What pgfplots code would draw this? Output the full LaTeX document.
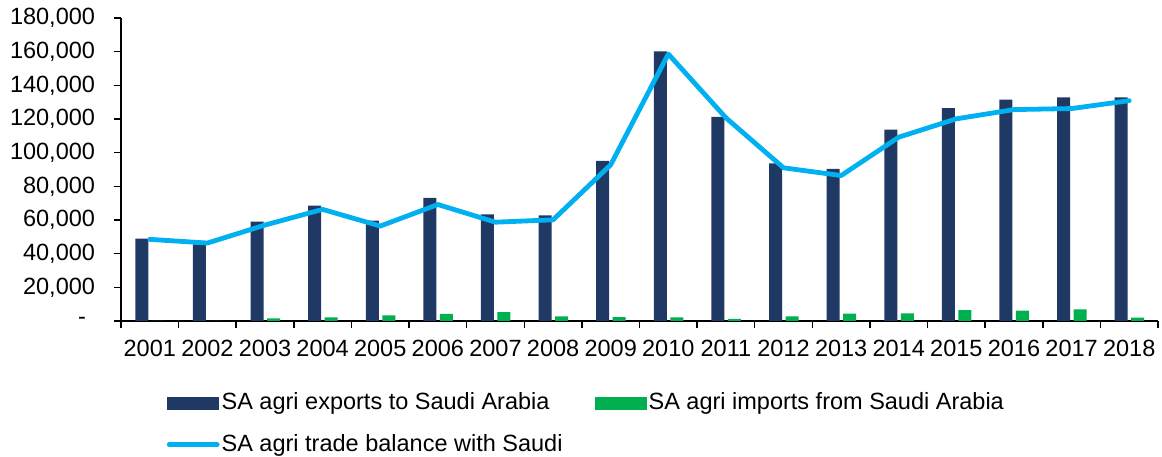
\documentclass[border=0pt]{standalone}
\usepackage{fontspec}
\setmainfont{Liberation Sans}
\usepackage{pgfplots}
\usepackage{pgfplotstable}
\pgfplotsset{compat=1.18}
\definecolor{navy}{HTML}{203864}
\definecolor{xlgreen}{HTML}{00B050}
\definecolor{xlblue}{HTML}{00B0F0}
\pgfplotstableread{
x exports imports balance
0  48900  0     48500
1  45500  0     46300
2  59100  1600  57000
3  68600  2200  66300
4  59700  3400  56400
5  73200  4200  69200
6  63300  5200  58700
7  62700  2800  60100
8  95100  2300  92800
9  160200 2200  158600
10 121300 1200  120700
11 93600  2800  91000
12 90400  4400  86400
13 113700 4500  109200
14 126400 6500  120100
15 131500 6100  125600
16 132900 6900  126200
17 132900 2000  130900
}\datatable
\begin{document}
\fontsize{23.5}{28}\selectfont
\begin{tikzpicture}[x=1pt,y=1pt]
\useasboundingbox (0,0) rectangle (1162,457);
\begin{axis}[
  at={(121pt,136pt)}, anchor=south west,
  scale only axis, width=1037pt, height=303pt,
  xmin=-0.5, xmax=17.5, ymin=0, ymax=180000,
  axis x line*=bottom, axis y line*=left,
  axis line style={line width=1.5pt, -},
  tick style={line width=1.5pt, black},
  tick align=outside, major tick length=7pt,
  xtick={-0.5,0.5,...,17.5},
  xticklabels={2001,2002,2003,2004,2005,2006,2007,2008,2009,2010,2011,2012,2013,2014,2015,2016,2017,2018,{}},
  x tick label style={xshift=28.8pt, yshift=-4pt, font=\fontsize{23.5}{28}\selectfont},
  ytick={0,20000,40000,60000,80000,100000,120000,140000,160000,180000},
  yticklabels={{-\hspace*{9pt}},{20,000},{40,000},{60,000},{80,000},{100,000},{120,000},{140,000},{160,000},{180,000}},
  y tick label style={xshift=-11pt, font=\fontsize{23.5}{28}\selectfont},
  scaled y ticks=false,
  clip=false,
  legend columns=2,
  legend cell align=left,
  legend style={at={(0.044,-0.23)}, anchor=north west, draw=none, fill=none,
    inner sep=0pt, row sep=17pt, font=\fontsize{23.5}{28}\selectfont,
    nodes={inner sep=2pt},
    /tikz/column 2/.style={column sep=30pt}},
]
\addplot[ybar, bar width=13pt, bar shift=-8pt, fill=navy, draw=none,
  legend image code/.code={\fill[navy] (0pt,-6.5pt) rectangle (52pt,6.5pt);}]
  table[x=x, y=exports] {\datatable};
\addlegendentry{SA agri exports to Saudi Arabia}
\addplot[ybar, bar width=13pt, bar shift=8.5pt, fill=xlgreen, draw=none,
  legend image code/.code={\fill[xlgreen] (0pt,-6.5pt) rectangle (52pt,6.5pt);}]
  table[x=x, y=imports] {\datatable};
\addlegendentry{SA agri imports from Saudi Arabia}
\addplot[sharp plot, xlblue, line width=4.8pt, line cap=round, line join=round, mark=none,
  legend image code/.code={\draw[xlblue, line width=4.8pt, line cap=round] (2pt,0pt) -- (50pt,0pt);}]
  table[x=x, y=balance] {\datatable};
\addlegendentry{SA agri trade balance with Saudi}
\end{axis}
\end{tikzpicture}
\end{document}
